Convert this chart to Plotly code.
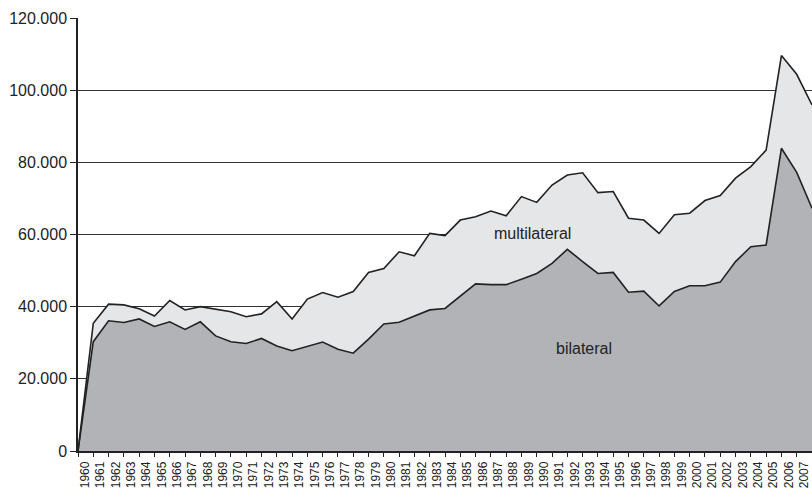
import plotly.graph_objects as go

# Years shown on the category axis
years = list(range(1960, 2008))

# Bilateral aid (thousands of units)
bilateral = [30.3, 36.1, 35.6, 36.6, 34.5, 35.8, 33.7, 35.8, 31.9, 30.3,
             29.8, 31.2, 29.1, 27.8, 29.1, 30.2, 28.2, 27.1, 31.0, 35.2,
             35.7, 37.4, 39.1, 39.5, 43.0, 46.3, 46.1, 46.1, 47.6, 49.2,
             52.0, 55.9, 52.5, 49.2, 49.5, 44.0, 44.3, 40.2, 44.2, 45.8,
             45.8, 46.8, 52.5, 56.6, 57.1, 83.9, 77.2, 67.3]

# Multilateral aid (stacked on top of bilateral)
multilateral = [5.1, 4.6, 4.9, 2.8, 2.9, 5.9, 5.4, 4.2, 7.5, 8.3,
                7.4, 6.8, 12.3, 8.8, 13.0, 13.7, 14.4, 17.1, 18.5, 15.4,
                19.5, 16.7, 21.2, 20.2, 21.0, 18.6, 20.4, 19.1, 22.9, 19.7,
                21.7, 20.6, 24.6, 22.4, 22.4, 20.5, 19.7, 20.1, 21.3, 20.1,
                23.6, 24.0, 23.1, 22.2, 26.3, 25.7, 27.2, 28.6]

# the chart's series start from a zero point one slot before the first year
start_year = years[0] - 1
x_vals = [start_year] + years
bil_vals = [0] + [v * 1000 for v in bilateral]
mul_vals = [0] + [v * 1000 for v in multilateral]

y_ticks = [0, 20000, 40000, 60000, 80000, 100000, 120000]

FONT = "Liberation Sans, Arial, sans-serif"

fig = go.Figure()
fig.add_trace(go.Scatter(
    x=x_vals, y=bil_vals, stackgroup="one", mode="lines",
    line=dict(color="#222222", width=1.6),
    fillcolor="#b2b3b7", name="bilateral", hoverinfo="x+y"))
fig.add_trace(go.Scatter(
    x=x_vals, y=mul_vals, stackgroup="one", mode="lines",
    line=dict(color="#222222", width=1.6),
    fillcolor="#e5e6e8", name="multilateral", hoverinfo="x+y"))

fig.add_annotation(text="multilateral", x=1988.7, y=60400, xref="x", yref="y",
                   showarrow=False, font=dict(size=16, color="#222222", family=FONT))
fig.add_annotation(text="bilateral", x=1992.1, y=28500, xref="x", yref="y",
                   showarrow=False, font=dict(size=16, color="#222222", family=FONT))

fig.update_layout(
    width=812, height=490,
    margin=dict(l=78, r=0, t=18, b=39),
    paper_bgcolor="white", plot_bgcolor="white",
    showlegend=False,
    separators=",.",
    font=dict(family=FONT, color="#222222"),
    xaxis=dict(
        range=[start_year, years[-1]],
        automargin=False,
        tickmode="array",
        tickvals=[start_year] + years,
        ticktext=[""] + [str(y) for y in years],
        tickangle=-90,
        ticklabelshift=-8,
        ticks="outside", ticklen=4, tickwidth=1, tickcolor="#222222",
        tickfont=dict(size=12, color="#222222"),
        showgrid=False, zeroline=False,
        showline=True, linecolor="#222222", linewidth=1.5,
    ),
    yaxis=dict(
        range=[0, 120000],
        automargin=False,
        tickvals=y_ticks,
        tickformat=",d",
        ticks="outside", ticklen=6, tickwidth=1, tickcolor="#222222",
        tickfont=dict(size=16, color="#222222"),
        showgrid=True, gridcolor="#333333", gridwidth=1.2,
        zeroline=False,
        showline=True, linecolor="#222222", linewidth=1.5,
    ),
)

# remove the page's default body margin so the 812x490 figure fills the window
fig.write_html("out.html",
               config={"displayModeBar": False},
               post_script="document.body.style.margin='0';"
                           "document.body.style.overflow='hidden';")
